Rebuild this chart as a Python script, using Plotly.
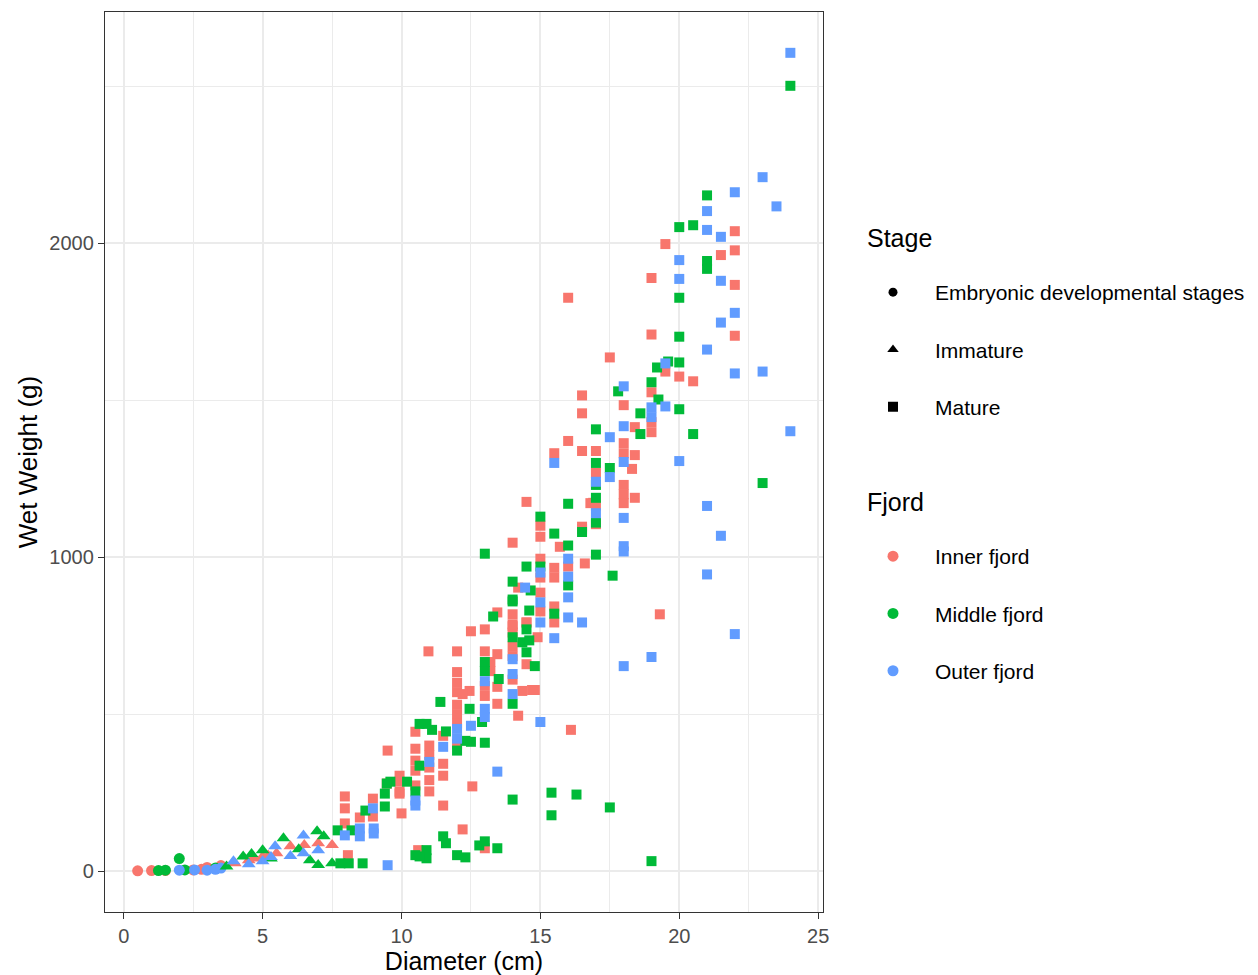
import plotly.graph_objects as go

# ---------------- data (Diameter cm, Wet weight g) ----------------
emb_inner_x = [0.5, 1, 1.5, 2.5, 2.8, 3, 3.5]
emb_inner_y = [1, 2, 2, 4, 6, 12, 18]
emb_middle_x = [1.25, 1.5, 2, 2.2, 3.3]
emb_middle_y = [2, 3, 40, 4, 10]
emb_outer_x = [2, 2.55, 3, 3.3, 3.5]
emb_outer_y = [3, 4, 3, 6, 10]

imm_inner_x = [4, 4.5, 5, 5.5, 6, 6.5, 7, 7.5, 4.7, 5.2]
imm_inner_y = [25, 35, 47, 57, 79, 83, 89, 83, 40, 50]
imm_middle_x = [3.7, 4.3, 5, 5.3, 5.75, 6.3, 6.7, 6.96, 7.2, 7, 7.5, 4.6]
imm_middle_y = [15, 47, 67, 40, 105, 70, 35, 127, 111, 20, 25, 55]
imm_outer_x = [3.95, 5, 5.45, 6, 6.47, 6.47, 7, 4.5, 5.3]
imm_outer_y = [32, 32, 79, 48, 114, 57, 67, 22, 45]

mat_inner_x = [7.96, 7.96, 7.96, 8.07, 8.5, 8.97, 8.97, 9.47, 9.93, 9.93,
               10, 9.5, 9.93, 9.93, 10.5, 10.5, 10.5, 10.5, 10.5, 10.97,
               11, 11, 11, 11, 11, 11.5, 11.5, 11.5, 11.5, 10.6,
               12, 12, 12, 12, 12, 12, 12, 12, 12.45, 12.2,
               12.55, 12.2, 13, 12.5, 13, 13, 13, 13, 13.2, 13.45,
               13.2, 13.45, 13.45, 13.45, 14, 14, 14, 14, 14, 14,
               14.2, 14, 14.5, 14.5, 14.35, 14.7, 14.8, 16.1, 14.5, 15,
               15, 14, 15.7, 16.5, 15, 15, 15.5, 15.5, 16, 16.6,
               14.2, 15, 15, 15.5, 15.5, 14.5, 14.9, 15.5, 16.5, 16,
               16.5, 16.5, 17, 17, 17, 16.9, 16.8, 17, 16, 17.5,
               18, 18, 18, 18, 18, 18, 18.4, 18.4, 18.3, 18.4,
               19, 19, 19, 19, 19, 19.5, 19.5, 20, 20.5, 19.3,
               21.5, 22, 22, 22, 22, 16.5]
mat_inner_y = [238, 200, 152, 51, 171, 231, 174, 279, 285, 247,
               184, 384, 304, 253, 320, 273, 390, 352, 444, 700,
               400, 370, 330, 290, 254, 431, 342, 304, 209, 67,
               700, 634, 600, 570, 530, 500, 470, 405, 574, 564,
               270, 133, 73, 764, 770, 700, 590, 558, 666, 691,
               637, 587, 533, 824, 818, 780, 760, 716, 685, 610,
               495, 786, 659, 792, 574, 577, 577, 450, 1176, 1100,
               1065, 1046, 1033, 1090, 995, 935, 966, 935, 970, 980,
               903, 887, 827, 843, 792, 792, 745, 1331, 1338, 1370,
               1458, 1515, 1338, 1268, 1105, 1173, 1172, 1164, 1826, 1636,
               1484, 1363, 1331, 1230, 1200, 1172, 1414, 1325, 1281, 1189,
               1889, 1709, 1525, 1430, 1398, 1997, 1591, 1575, 1560, 818,
               1962, 2038, 1977, 1867, 1705, 1097]

mat_middle_x = [7.7, 7.8, 8.1, 8.6, 8.7, 9.4, 9.4, 9.6, 10.5, 10.2,
                10.65, 10.65, 10.9, 11.4, 12, 12.45, 12.3, 12.5, 13, 12.9,
                13, 13, 13.5, 14, 14, 14.35, 14.5, 14.8, 11.5, 11.6,
                12, 12.3, 12.8, 13, 13.45, 10.5, 10.9, 10.9, 10.65, 13.3,
                14, 14, 15.4, 16.3, 15.4, 17.5, 19, 13, 15, 15.5,
                16, 16.5, 16, 15, 14.5, 14, 14.65, 14, 14.6, 15.5,
                16, 14.5, 14.6, 17, 17, 17, 17, 17, 17, 17.6,
                17.5, 17.8, 18.6, 18.6, 19, 19.2, 19.6, 19.25, 20, 20,
                20, 20, 20.5, 20, 20.5, 21, 21, 21, 23, 24,
                8.2, 11.1, 11.6, 9.47]
mat_middle_y = [130, 25, 25, 25, 193, 247, 206, 285, 254, 285,
                469, 336, 469, 539, 384, 517, 415, 412, 409, 475,
                666, 637, 612, 745, 533, 729, 697, 653, 111, 89,
                51, 44, 82, 95, 73, 51, 67, 41, 47, 811,
                859, 228, 250, 244, 178, 203, 32, 1011, 1129, 1075,
                1037, 1080, 1170, 970, 970, 922, 894, 865, 830, 820,
                910, 770, 735, 1407, 1300, 1230, 1189, 1110, 1008, 941,
                1284, 1528, 1458, 1392, 1557, 1604, 1623, 1502, 1620, 1702,
                1826, 1471, 1392, 2051, 2057, 2152, 1943, 1918, 1236, 2501,
                130, 450, 445, 279]

mat_outer_x = [7.96, 8.5, 8.5, 8.97, 9, 9, 9.5, 10.5, 10.5, 11,
               11.5, 12, 12, 12.5, 13, 13, 13, 13.45, 14, 14,
               14, 15, 14.45, 15, 15, 15, 15.5, 16, 16, 16,
               16, 16.5, 15.5, 17, 17, 17.5, 17.5, 18, 18, 18,
               18, 18, 18, 18, 19, 19, 19.5, 19.5, 20, 20,
               20, 21, 21, 21, 21, 21, 21.5, 21.5, 21.5, 21.5,
               22, 22, 22, 22, 23, 23, 23.5, 24, 24, 19]
mat_outer_y = [114, 136, 111, 200, 136, 120, 19, 209, 225, 348,
               396, 453, 422, 463, 605, 517, 491, 317, 675, 628,
               564, 475, 903, 951, 856, 792, 742, 995, 938, 872,
               808, 792, 1300, 1240, 1140, 1382, 1255, 1544, 1417, 1303,
               1125, 1035, 1018, 653, 682, 1477, 1617, 1480, 1946, 1886,
               1306, 2102, 2042, 1661, 1163, 945, 2020, 1880, 1747, 1068,
               2162, 1778, 1585, 755, 2210, 1591, 2117, 2606, 1401, 1446]

stage_names = ["Embryonic developmental stages", "Immature", "Mature"]
stage_symbols = ["circle", "triangle-up", "square"]
stage_sizes = [11, 12, 10]
fjord_names = ["Inner fjord", "Middle fjord", "Outer fjord"]
fjord_colors = ["#F8766D", "#00BA38", "#619CFF"]

series = [
    (0, 0, emb_inner_x, emb_inner_y), (0, 1, emb_middle_x, emb_middle_y), (0, 2, emb_outer_x, emb_outer_y),
    (1, 0, imm_inner_x, imm_inner_y), (1, 1, imm_middle_x, imm_middle_y), (1, 2, imm_outer_x, imm_outer_y),
    (2, 0, mat_inner_x, mat_inner_y), (2, 1, mat_middle_x, mat_middle_y), (2, 2, mat_outer_x, mat_outer_y),
]

FONT = "Liberation Sans, Arial, Helvetica, sans-serif"
fig = go.Figure()

for s, f, xs, ys in series:
    fig.add_trace(go.Scatter(
        x=xs, y=ys, mode="markers", showlegend=False,
        name=f"{stage_names[s]} – {fjord_names[f]}",
        marker=dict(symbol=stage_symbols[s], color=fjord_colors[f], size=stage_sizes[s],
                    line=dict(width=0)),
        hovertemplate="%{x} cm, %{y} g<extra></extra>"))

# legend entries
for i, (nm, sym) in enumerate(zip(stage_names, stage_symbols)):
    fig.add_trace(go.Scatter(
        x=[None], y=[None], mode="markers", name=nm, legend="legend",
        legendgroup=f"s{i}",
        marker=dict(symbol=sym, color="black", size=10 if sym != "circle" else 9)))
for i, (nm, col) in enumerate(zip(fjord_names, fjord_colors)):
    fig.add_trace(go.Scatter(
        x=[None], y=[None], mode="markers", name=nm, legend="legend2",
        legendgroup=f"f{i}",
        marker=dict(symbol="circle", color=col, size=11)))

# The page body has an 8px margin, so work in figure pixels = screen - 8
OFF = 8
W, H = 1258 - OFF, 975 - OFF
L, R, T, B = 105 - OFF, 823 - OFF, 12 - OFF, 912 - OFF

axis_common = dict(
    showline=True, mirror=True, linecolor="#333333", linewidth=1.3,
    ticks="outside", ticklen=6, tickwidth=1.2, tickcolor="#333333",
    tickfont=dict(size=20, color="#4D4D4D", family=FONT),
    showgrid=True, gridcolor="#EBEBEB", gridwidth=2,
    zeroline=False, automargin=False,
)

leg_common = dict(xref="container", yref="container", xanchor="left", yanchor="top",
                  traceorder="grouped", tracegroupgap=27, itemwidth=74,
                  font=dict(size=21, color="black", family=FONT),
                  bgcolor="rgba(0,0,0,0)", itemclick=False, itemdoubleclick=False)

fig.update_layout(
    width=W, height=H,
    margin=dict(l=L, r=W - R, t=T, b=H - B, autoexpand=False),
    plot_bgcolor="white", paper_bgcolor="white",
    font=dict(family=FONT, color="black"),
    xaxis=dict(range=[-0.675, 25.175], tickvals=[0, 5, 10, 15, 20, 25],
               minor=dict(dtick=2.5, tick0=0, showgrid=True, gridcolor="#EBEBEB", gridwidth=1),
               title=dict(text="Diameter (cm)", font=dict(size=25, color="black"), standoff=7),
               **axis_common),
    yaxis=dict(range=[-130, 2736], tickvals=[0, 1000, 2000],
               minor=dict(dtick=500, tick0=0, showgrid=True, gridcolor="#EBEBEB", gridwidth=1),
               title=dict(text="Wet Weight (g)", font=dict(size=26, color="black"), standoff=4),
               **axis_common),
    legend=dict(x=(893 - OFF - 42) / W, y=1 - (292 - OFF - 20) / H, **leg_common),
    legend2=dict(x=(893 - OFF - 42) / W, y=1 - (556 - OFF - 20) / H, **leg_common),
    annotations=[
        dict(text="Stage", xref="paper", yref="paper",
             x=(865 - OFF - L) / (R - L), y=1 - (238 - OFF - T) / (B - T),
             xanchor="left", yanchor="middle", showarrow=False, font=dict(size=25, color="black")),
        dict(text="Fjord", xref="paper", yref="paper",
             x=(865 - OFF - L) / (R - L), y=1 - (502 - OFF - T) / (B - T),
             xanchor="left", yanchor="middle", showarrow=False, font=dict(size=25, color="black")),
    ],
)

fig.write_html("out.html")
